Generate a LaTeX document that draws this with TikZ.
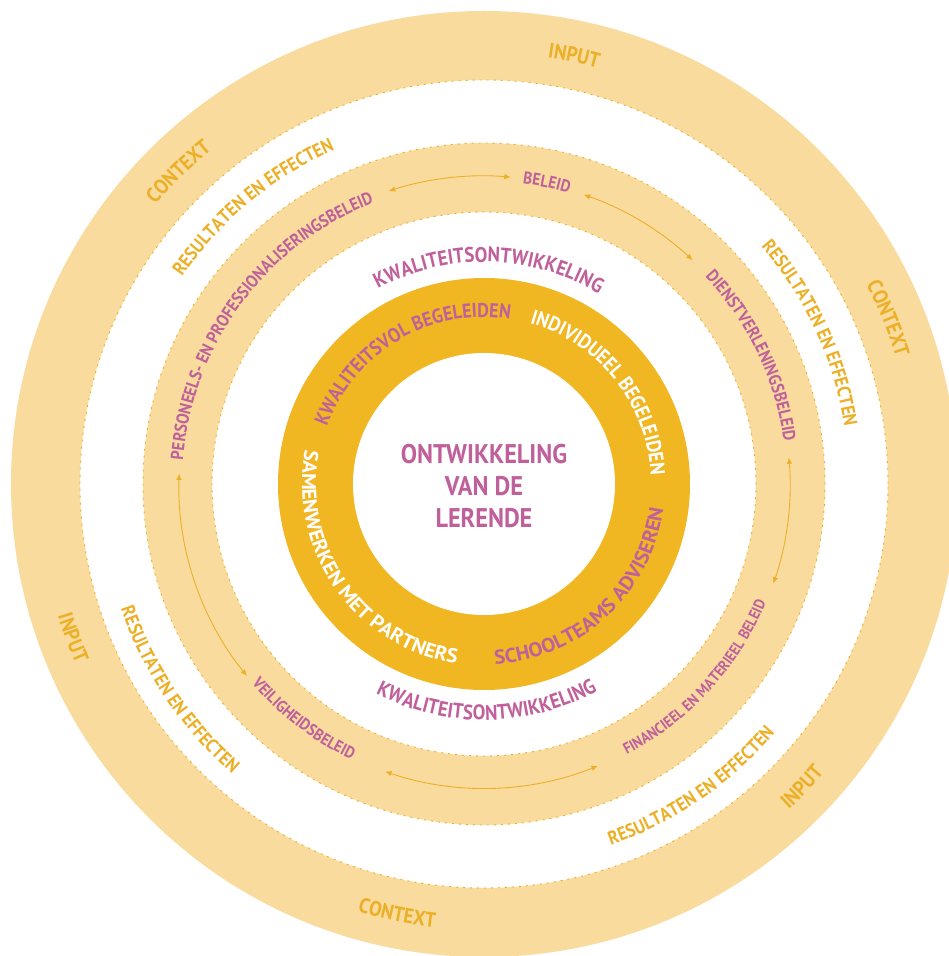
\documentclass[tikz,border=0pt]{standalone}
\usepackage{fontspec}
\setmainfont{PT Sans}[FakeStretch=0.9]
\newfontfamily\wideface{PT Sans}[FakeStretch=1.05]
\usetikzlibrary{
    arrows.meta,
    decorations.text
}
\definecolor{BandSand}{RGB}{249,219,158}
\definecolor{RingGold}{RGB}{240,183,35}
\definecolor{TextPlum}{RGB}{192,96,155}
\definecolor{TextAmber}{RGB}{236,176,40}
\definecolor{LineAmber}{RGB}{238,175,40}
\tikzset{
  band/.style = {fill=BandSand, even odd rule},
  seam/.style = {draw=LineAmber, line width=0.9pt, dash pattern=on 2pt off 5pt},
  link/.style = {{Latex[length=6.5pt,width=5.5pt]}-{Latex[length=6.5pt,width=5.5pt]},
                 LineAmber, line width=0.9pt}
}
\newcommand\ringsize[1]{\fontsize{#1}{#1}\selectfont\bfseries}
\newcommand\widesize[1]{\wideface\fontsize{#1}{#1}\selectfont\bfseries}
% text on an arc, read clockwise (tops outward)
\newcommand\cwlabel[5]{%
  \path[decorate, decoration={text along path, text align=center, text color=#3,
        text={|#4|#5}}]
    ({#2+70}:#1) arc[start angle={#2+70}, end angle={#2-70}, radius=#1];}
% text on an arc, read counterclockwise (tops inward)
\newcommand\ccwlabel[5]{%
  \path[decorate, decoration={text along path, text align=center, text color=#3,
        text={|#4|#5}}]
    ({#2-70}:#1) arc[start angle={#2-70}, end angle={#2+70}, radius=#1];}

\begin{document}
\begin{tikzpicture}[x=1pt, y=1pt]
\useasboundingbox (-484,-472) rectangle (465,484);

% rings
\fill[band] (0,0) circle (473) (0,0) circle (404);
\fill[band] (0,0) circle (341) (0,0) circle (272);
\fill[RingGold] (0,0) circle (206);
\fill[white] (0,0) circle (131);
\foreach \r in {272,341,404}
  \draw[seam] (0,0) circle (\r);

% outer band
\cwlabel{431}{78.1}{TextAmber}{\ringsize{21}}{INPUT}
\cwlabel{431}{134.4}{TextAmber}{\ringsize{21}}{CONTEXT}
\cwlabel{431}{22.3}{TextAmber}{\ringsize{21}}{CONTEXT}
\ccwlabel{446}{200.5}{TextAmber}{\ringsize{21}}{INPUT}
\ccwlabel{446}{258.6}{TextAmber}{\ringsize{21}}{CONTEXT}
\ccwlabel{446}{316.4}{TextAmber}{\ringsize{21}}{INPUT}

% results band
\cwlabel{366}{129.8}{TextAmber}{\ringsize{19}}{RESULTATEN EN EFFECTEN}
\cwlabel{365}{24.8}{TextAmber}{\ringsize{19}}{RESULTATEN EN EFFECTEN}
\ccwlabel{384}{214}{TextAmber}{\ringsize{19}}{RESULTATEN EN EFFECTEN}
\ccwlabel{383}{304.4}{TextAmber}{\ringsize{19}}{RESULTATEN EN EFFECTEN}

% policy band
\cwlabel{303}{78.2}{TextPlum}{\ringsize{17}}{BELEID}
\cwlabel{302}{143.4}{TextPlum}{\ringsize{17.5}}{PERSONEELS- EN PROFESSIONALISERINGSBELEID}
\cwlabel{303}{25.6}{TextPlum}{\ringsize{17.5}}{DIENSTVERLENINGSBELEID}
\ccwlabel{306}{317.5}{TextPlum}{\ringsize{15.5}}{FINANCIEEL EN MATERIEEL BELEID}
\ccwlabel{306}{232.5}{TextPlum}{\ringsize{16.5}}{VEILIGHEIDSBELEID}

\draw[link] (108:308) arc[start angle=108, end angle=85, radius=308];
\draw[link] (71:306) arc[start angle=71, end angle=47, radius=306];
\draw[link] (5:306) arc[start angle=5, end angle=-19, radius=306];
\draw[link] (251:304) arc[start angle=251, end angle=292, radius=304];
\draw[link] (178:305) arc[start angle=178, end angle=219, radius=305];

% quality band
\cwlabel{222}{88.7}{TextPlum}{\ringsize{21}}{KWALITEITSONTWIKKELING}
\ccwlabel{236}{270.7}{TextPlum}{\ringsize{21}}{KWALITEITSONTWIKKELING}

% gold ring
\cwlabel{167}{120.5}{TextPlum}{\ringsize{20}}{KWALITEITSVOL BEGELEIDEN}
\cwlabel{167}{38.5}{white}{\ringsize{20.5}}{INDIVIDUEEL BEGELEIDEN}
\ccwlabel{181}{312.8}{TextPlum}{\widesize{20}}{SCHOOLTEAMS ADVISEREN}
\ccwlabel{182}{215.2}{white}{\widesize{20}}{SAMENWERKEN MET PARTNERS}

\node[align=center, text=TextPlum, font=\fontsize{27}{32}\selectfont\bfseries]
  (learner) at (0,-2) {ONTWIKKELING\\VAN DE\\LERENDE};
\end{tikzpicture}
\end{document}
